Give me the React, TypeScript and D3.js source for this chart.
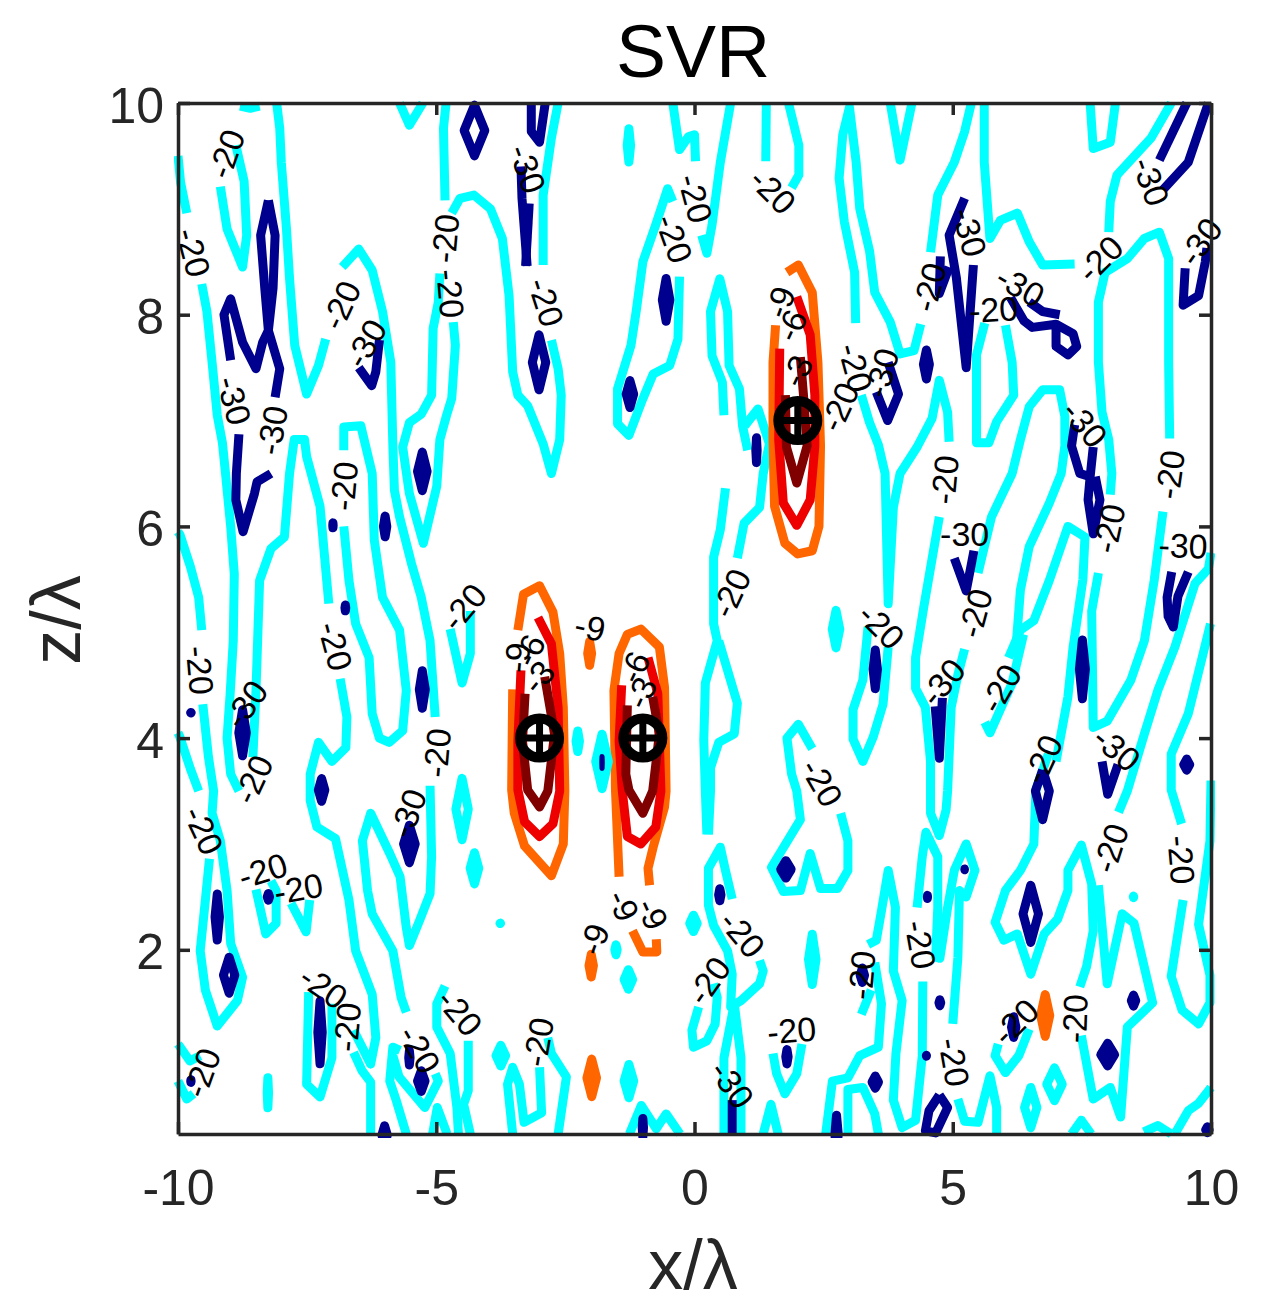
import React, {useEffect, useRef} from 'react'
import * as d3 from 'd3'

type Pt = number[]

const xTicks = [-10, -5, 0, 5, 10]
const zTicks = [2, 4, 6, 8, 10]
const sources = [[-3, 4], [-1, 4], [2, 7]]

// contour level -20, broken where clabel cut the line
const linesM20: Pt[][] = [
  [[-8.8,9.97],[-8.6,9.95],[-8.42,9.97]],
  [[-8.09,10],[-8.03,9.76],[-8,9.44],[-7.9,8.81],[-7.84,8.34],[-7.74,7.71],[-7.51,7.25],[-7.28,7.52],[-7.14,7.77]],
  [[-10,9.5],[-9.95,9.25],[-9.83,8.96]],
  [[-9.54,8.29],[-9.44,8.03],[-9.34,7.55],[-9.24,7.05],[-9.14,6.79],[-9.08,6.5],[-8.98,6],[-8.91,5.55],[-8.93,4.92],[-8.99,4.42],[-9.05,4],[-8.98,3.66],[-8.82,3.5]],
  [[-10,5.95],[-9.96,5.92],[-9.76,5.62],[-9.6,5.33],[-9.54,5.02]],
  [[-10,4.05],[-9.97,4.02],[-9.76,3.71],[-9.6,3.5]],
  [[-9.52,4.32],[-9.41,3.82],[-9.31,3.5],[-9.34,3.29],[-9.18,3.03],[-9.05,2.56],[-8.98,2.06],[-8.75,1.74],[-8.85,1.52],[-9.24,1.28],[-9.47,1.62],[-9.57,1.99],[-9.47,2.47],[-9.39,2.86]],
  [[-9.18,9.21],[-9.05,8.81],[-8.75,8.45],[-8.67,8.75],[-8.72,9.26],[-8.88,9.6]],
  [[-6.82,8.45],[-6.5,8.62],[-6.24,8.42],[-6.04,8.03],[-5.88,7.55],[-5.84,6.76],[-5.81,6.34],[-5.71,6.09],[-5.48,5.65],[-5.29,5.33],[-5.12,4.92],[-5.02,4.2]],
  [[-8.55,3.82],[-8.49,4.45],[-8.42,5.49],[-8.2,5.79],[-7.94,5.9],[-7.84,6.5],[-7.75,6.82],[-7.55,6.82],[-7.51,6.66],[-7.25,6.19],[-7.08,5.27]],
  [[-6.79,6.72],[-6.79,6.94],[-6.46,6.95],[-6.24,6.5],[-6.2,5.87],[-6.04,5.33],[-5.71,5.02],[-5.58,4.45],[-5.65,4.07],[-5.91,3.96],[-6.1,4],[-6.24,4.23],[-6.3,4.76],[-6.56,5.08],[-6.69,5.49],[-6.79,6]],
  [[-6.86,4.56],[-6.73,4.2],[-6.75,3.91],[-7.02,3.78],[-7.28,3.96],[-7.44,3.66],[-7.44,3.41],[-7.31,3.16],[-6.95,3.05],[-6.69,2.47],[-6.56,1.99],[-6.24,1.58],[-6.17,1.17],[-6.27,0.92],[-6.6,1.24]],
  [[-6.6,1.03],[-6.44,0.86],[-6.27,0.75],[-6.27,0.25]],
  [[-4.67,7.93],[-4.63,7.71],[-4.7,7.21],[-4.8,7.05],[-4.93,6.82],[-4.99,6.38],[-5.25,5.84],[-5.52,6.31],[-5.65,6.75],[-5.52,6.98],[-5.29,7.06],[-5.09,7.24],[-5.06,7.87],[-4.96,8.12],[-4.93,8.39]],
  [[-4.83,9.08],[-4.86,9.76],[-4.81,10]],
  [[-5.71,10],[-5.52,9.79],[-5.26,10]],
  [[-4.7,8.96],[-4.54,9.1],[-4.27,9.13],[-3.95,9],[-3.72,8.72],[-3.59,8.18],[-3.52,7.46],[-3.42,7.24],[-3.23,7.14],[-2.93,6.78],[-2.77,6.5],[-2.61,6.82],[-2.58,7.24],[-2.64,7.49],[-2.77,7.76]],
  [[-2.64,10],[-2.77,9.67],[-2.93,9.13],[-2.93,8.47]],
  [[-0.42,10],[-0.29,9.56],[-0.12,9.68],[0,9.7],[0.02,9.45]],
  [[-0.42,9.07],[-0.52,9.19],[-0.75,8.85],[-1,8.5],[-1.13,8.03],[-1.23,7.71],[-1.49,7.3],[-1.49,6.97],[-1.27,6.86],[-1.03,7.17],[-0.8,7.44],[-0.48,7.52],[-0.32,7.77],[-0.29,8.36]],
  [[0.7,10],[0.5,9.44],[0.34,8.85],[0.24,8.58],[0.14,8.75]],
  [[1.39,10],[1.38,9.45]],
  [[1.82,10],[2.02,9.6],[2.02,9.32],[1.88,9.2]],
  [[0.57,7.05],[0.54,7.36],[0.34,7.61],[0.31,8.03],[0.49,8.34],[0.64,8.03],[0.67,7.52],[0.87,7.3],[0.93,6.95],[1.03,6.72]],
  [[0.97,6.95],[1.23,7.11],[1.45,6.78],[1.33,6.5],[1.26,6.18],[0.96,6.03],[0.83,5.7]],
  [[3.12,7.92],[3.1,8.4],[2.9,8.88],[2.8,9.29],[2.87,9.7],[3,9.96],[3.13,9.44],[3.2,9],[3.39,8.6],[3.49,8.21],[3.79,7.93],[3.98,7.63],[4.25,7.66],[4.38,7.91]],
  [[3.79,10],[3.98,9.46],[4.21,10]],
  [[5.36,10],[5.23,9.73],[5.03,9.44],[4.71,9.13],[4.57,8.59]],
  [[5.61,10],[5.61,9.44],[5.72,8.72],[5.92,8.89],[6.25,8.96],[6.48,8.69],[6.74,8.47],[7.36,8.48]],
  [[7.66,10],[7.72,9.57],[8.05,9.63],[8.15,10]],
  [[9.23,10],[8.84,9.67],[8.18,9.32],[8.05,9.07],[8.02,8.78]],
  [[8.05,6.3],[8.08,6.5],[8.02,6.82],[7.89,7.08],[7.82,7.55],[7.82,8.12],[7.95,8.4],[8.38,8.53],[8.71,8.72],[9,8.78],[9.18,8.53],[9.18,7.55],[9.2,6.83]],
  [[5.62,7.92],[5.46,7.62],[5.46,6.79],[5.7,6.79],[5.85,6.99],[6.18,7.24],[6.15,7.55],[6.02,7.9]],
  [[5.49,5.56],[5.75,6.09],[6.15,6.5],[6.31,6.82],[6.48,7.13],[6.74,7.29],[7.07,7.29],[7.17,7.04],[7.17,6.76],[7.1,6.5],[6.87,6.22],[6.48,5.81],[6.31,5.4],[6.21,4.76]],
  [[3.23,7.24],[3.39,6.98],[3.56,6.77],[3.69,6.5],[3.72,5.87],[3.75,5.27],[3.85,6.18],[3.98,6.5],[4.31,6.75],[4.6,7.02],[4.74,7.38],[4.9,7.08],[4.93,6.8]],
  [[0.6,6.36],[0.5,5.97],[0.37,5.71],[0.37,5.08],[0.44,4.92],[0.21,4.52],[0.18,3.98],[0.21,3.5],[0.24,3.09]],
  [[0.47,4.92],[0.83,4.33],[0.77,4.04],[0.47,3.96],[0.31,3.72],[0.31,3.5],[0.27,3.09]],
  [[2.28,3.9],[2.01,4.13],[1.79,4],[1.88,3.66],[1.98,3.5],[2.05,3.23],[1.49,2.78],[1.72,2.55],[2.05,2.56],[2.24,2.91],[2.44,2.58],[2.77,2.58],[2.97,2.75],[2.97,3.03],[2.83,3.29]],
  [[3.36,5.05],[3.26,4.55],[3.07,4.27],[3.07,3.99],[3.26,3.78],[3.46,4.01],[3.65,4.32],[3.75,4.86]],
  [[4.74,6.09],[4.44,5.24],[4.28,4.76],[4.28,4.47],[4.47,4.29],[4.57,3.78],[4.57,3.29],[4.74,3.08],[4.87,3.32],[4.9,3.5],[4.97,4.29],[5.1,4.6],[5.23,4.84]],
  [[6.08,4.76],[6.31,5.02],[6.57,5.11],[6.87,5.49],[7.23,6],[7.56,5.9],[7.52,5.5],[7.33,4.86],[7.23,4.39],[7,3.78]],
  [[6.37,4.98],[6.15,4.52],[5.92,4.27],[5.72,4.05],[5.62,4.15]],
  [[7.82,5.56],[7.69,5.2],[7.72,4.1],[7.99,4.16],[8.45,4.55],[8.71,4.92],[8.9,5.49],[9.07,6.14]],
  [[10,5.75],[9.95,5.6],[9.69,5.46],[9.3,4.86],[8.97,4.45],[8.71,4.04],[8.38,3.5],[8.21,3.3]],
  [[9.99,5.08],[9.56,4.23],[9.23,3.85],[9.23,3.51],[9.43,3.19]],
  [[10,3.6],[9.98,3.03],[9.76,2.24],[9.98,1.76],[9.98,1.5],[9.76,1.3],[9.44,1.43],[9.23,1.75],[9.46,2.47]],
  [[0.73,2.48],[0.6,2.75],[0.5,2.97],[0.27,2.77],[0.27,2.42],[0.37,2.23],[0.64,1.99],[0.73,1.77],[0.7,1.46],[0.9,1.52],[1.26,1.68],[1.33,1.8],[1.26,1.9]],
  [[0.57,0.26],[0.57,0.98],[0.77,1.49],[0.9,0.98],[0.9,0.26]],
  [[0.08,1.46],[-0.05,1.24],[-0.02,1.08],[0.24,1.14],[0.4,1.3],[0.44,1.55],[0.37,1.68]],
  [[1.52,1.02],[1.59,0.83],[1.75,0.64],[1.98,0.83],[2.08,1.11]],
  [[1.33,0.26],[1.48,0.54],[1.62,0.26]],
  [[3.36,2.05],[3.52,2.09],[3.62,2.37],[3.75,2.75],[3.89,2.4],[3.85,1.8],[4.02,1.52],[3.9,1.02],[3.85,0.58],[4.02,0.32],[4.28,0.39],[4.41,1],[4.42,1.7]],
  [[3.23,1.39],[3.42,1.62]],
  [[3.49,1.88],[3.62,1.49],[3.56,1.08],[3.2,1],[2.97,0.79],[2.67,0.76],[2.54,0.26]],
  [[2.97,0.26],[2.97,0.68],[3.26,0.7],[3.49,0.45],[3.56,0.26]],
  [[4.31,2.4],[4.41,2.88],[4.48,3.11],[4.71,2.88],[4.71,2.4],[4.67,1.93],[4.75,1.92],[4.9,2.4],[5.03,2.75],[5.26,3],[5.43,2.75],[5.26,2.5],[5.13,2.56],[5.1,1.93],[5,1.3]],
  [[5.1,0.59],[5.23,0.38],[5.49,0.37],[5.72,0.81],[5.85,0.51],[5.85,0.26]],
  [[5.88,1.11],[5.82,1],[6.02,0.84],[6.28,1],[6.48,1.25]],
  [[6.85,3.85],[6.61,3.51],[6.57,3],[6.31,2.75],[6.02,2.56],[5.82,2.26],[5.99,2.09],[6.25,2.15],[6.51,1.77],[6.77,2.15],[7.03,2.29],[7.23,2.56],[7.23,2.75],[7.49,2.99],[7.69,2.62],[7.72,2.18],[7.59,1.84],[7.46,1.65]],
  [[7.82,2.61],[7.99,1.68],[8.28,2.34],[8.51,2.25],[8.87,1.5],[8.38,1.27],[8.25,0.42],[8.05,0.7],[7.72,0.59],[7.49,1.19]],
  [[7.3,0.26],[7.49,0.39],[7.68,0.26]],
  [[8.7,0.28],[8.97,0.34],[9.23,0.26]],
  [[9.3,0.26],[9.56,0.48],[9.76,0.55],[10,0.7]],
  [[-8.49,2.57],[-8.3,2.15],[-8.1,2.25],[-8.1,2.56],[-8.2,2.65]],
  [[-7.81,2.44],[-7.52,2.17],[-7.45,2.47]],
  [[-5.58,1.41],[-5.68,1.55],[-5.84,1.99],[-6.24,2.34],[-6.33,2.56],[-6.43,3.03],[-6.27,3.29],[-5.9,2.91],[-5.7,2.69],[-5.58,2.21],[-5.52,2.04],[-5.32,2.28],[-5.12,2.53],[-5.09,2.88],[-5.12,3.55]],
  [[-7.47,1.6],[-7.51,0.73],[-7.25,0.61],[-7.02,0.98],[-7.02,1.49]],
  [[-10,1.11],[-9.77,0.95],[-9.57,1]],
  [[-10,0.76],[-9.83,0.59],[-9.7,0.64]],
  [[-5.07,0.26],[-4.98,0.51],[-4.79,0.26]],
  [[-5.58,0.26],[-5.77,0.57],[-5.9,0.76],[-5.84,1.08],[-5.7,1.05]],
  [[-5.84,1],[-5.72,0.8],[-5.22,0.51],[-4.96,0.76],[-5.02,0.83]],
  [[-4.83,1.66],[-4.99,1.49],[-4.99,1.27],[-4.73,1.02],[-4.6,0.51],[-4.57,0.26]],
  [[-4.38,1.14],[-4.38,0.67],[-4.47,0.54],[-4.34,0.26]],
  [[-3.52,0.26],[-3.62,0.73],[-3.52,0.89],[-3.39,0.73],[-3.3,0.37],[-2.96,0.46],[-3,0.89]],
  [[-2.84,1.17],[-2.77,1.02],[-2.48,0.8],[-2.64,0.26]],
  [[-1.26,0.26],[-1.03,0.53],[-0.74,0.31],[-0.55,0.45],[-0.28,0.26]],
  [[-4.73,5.03],[-4.5,4.52],[-4.34,4.8],[-4.34,5.2]],
]

// contour level -30
const linesM30: Pt[][] = [
  [[-3.16,10],[-3.16,9.73],[-3,9.63],[-2.89,10]],
  [[-3.36,9.4],[-3.34,9.1],[-3.24,8.46]],
  [[-3.2,9.05],[-3.27,8.46]],
  [[-8.25,9.08],[-8.4,8.75],[-8.32,8.25],[-8.25,7.85],[-8.36,7.74],[-8.49,7.49],[-8.75,7.74],[-8.98,8.15],[-9.11,8],[-8.98,7.57]],
  [[-8.25,9.08],[-8.12,8.75],[-8.16,8.25],[-8.25,7.85],[-8.03,7.49],[-8.12,7.22]],
  [[-6.1,7.76],[-6.17,7.46],[-6.25,7.33],[-6.5,7.5]],
  [[-8.82,6.87],[-8.87,6.5],[-8.88,6.25],[-8.74,5.95],[-8.52,6.31],[-8.47,6.42],[-8.2,6.5]],
  [[9.53,10],[9,9.46]],
  [[9.95,10],[9.56,9.44],[9.07,9.18]],
  [[5.23,9.1],[4.93,8.75],[5.07,8.35],[5.26,7.5],[5.4,8.47]],
  [[4.76,8.55],[4.74,8.2],[4.93,8.45]],
  [[6.12,8.16],[6.38,7.94],[6.54,7.88],[7,7.91],[7.33,7.82],[7.4,7.7],[7.23,7.62],[7,7.7],[7,7.87]],
  [[6.48,8.12],[6.74,8.03],[7.07,8]],
  [[3.75,7.55],[3.95,7.25],[3.74,7],[3.52,7.27]],
  [[9.5,8.44],[9.46,8.09],[9.76,8.18],[9.89,8.5],[9.92,8.63]],
  [[7.36,6.96],[7.3,6.76],[7.46,6.5],[7.66,6.47],[7.72,6.75]],
  [[7.66,6.47],[7.62,6.25],[7.72,5.93],[7.85,6.25],[7.76,6.47]],
  [[5.03,5.7],[5.26,5.39],[5.41,5.77]],
  [[4.66,4.3],[4.74,3.81],[4.8,4.38]],
  [[9.24,5.57],[9.15,5.33],[9.17,5.15],[9.27,5.05],[9.36,5.34],[9.56,5.57]],
  [[6.74,3.7],[6.6,3.5],[6.74,3.23],[6.87,3.5],[6.74,3.7]],
  [[7.89,3.78],[8,3.47],[8.2,3.75]],
  [[4.74,0.63],[4.9,0.51],[4.67,0.27],[4.47,0.29],[4.54,0.48],[4.74,0.63]],
  [[0.73,0.58],[0.73,0.26]],
]

// contour level -9
const linesM9: Pt[][] = [
  [[1.79,8.4],[2.01,8.47],[2.28,8.21],[2.39,7.55],[2.44,6.76],[2.41,6],[2.28,5.77],[2,5.74],[1.75,5.84],[1.55,6.19],[1.52,6.82],[1.52,7.55],[1.57,7.9]],
  [[-3.42,5.02],[-3.31,5.36],[-3,5.44],[-2.74,5.19],[-2.61,4.8],[-2.54,4.29],[-2.51,3.5],[-2.54,3],[-2.77,2.7],[-3.29,2.98],[-3.49,3.29],[-3.54,3.51],[-3.52,4.46]],
  [[-1.46,2.69],[-1.53,3.51],[-1.56,4.45],[-1.46,4.8],[-1.3,4.98],[-1.04,5.03],[-0.68,4.86],[-0.58,4.48],[-0.55,3.5],[-0.58,3.35],[-0.8,2.97],[-0.9,2.77],[-0.87,2.61]],
  [[-1.2,2.18],[-1,1.98],[-0.73,1.98],[-0.74,2.1]],
]

// contour level -6
const linesM6: Pt[][] = [
  [[1.98,8.17],[2.24,7.81],[2.33,7.24],[2.33,6.76],[2.24,6.25],[1.98,6.01],[1.72,6.22],[1.63,6.82],[1.65,7.68]],
  [[-3.03,5.14],[-2.77,4.89],[-2.64,4.29],[-2.61,3.5],[-2.74,3.19],[-3,3.07],[-3.29,3.21],[-3.42,3.51],[-3.42,3.97],[-3.36,4.64]],
  [[-0.9,4.76],[-0.71,4.42],[-0.65,3.5],[-0.75,3.16],[-1.04,3],[-1.3,3.07],[-1.4,3.51],[-1.46,3.97],[-1.41,4.5]],
]

// contour level -3
const linesM3: Pt[][] = [
  [[2.05,7.6],[2.11,7.24],[2.18,6.76],[1.98,6.41],[1.78,6.75],[1.76,7.24]],
  [[-2.9,4.58],[-2.71,4.04],[-2.84,3.5],[-3,3.35],[-3.23,3.51],[-3.33,3.97],[-3.28,4.42]],
  [[-0.81,4.39],[-0.68,4.04],[-0.81,3.5],[-1,3.29],[-1.27,3.51],[-1.33,3.66],[-1.3,4.31]],
]

// small closed contours: x, z, half width, half height
const dotsM20 = [
  [-1.27,9.6,0.12,0.2],[2.74,5.03,0.16,0.22],[2.28,1.91,0.16,0.28],[-4.26,2.77,0.17,0.19],
  [-3.76,2.25,0.09,0.045],[-1.52,2,0.11,0.09],[-1.28,1.72,0.17,0.135],[-0.02,2.25,0.16,0.12],
  [-2.26,3.97,0.12,0.14],[-1.79,3.78,0.21,0.3],[-8.26,0.65,0.1,0.185],[-3.75,1,0.18,0.14],
  [-1.27,0.76,0.18,0.2],[8.5,2.5,0.09,0.05],
]
const dotsM30 = [
  [-0.55,8.14,0.16,0.245],[-1.25,7.25,0.16,0.17],[-5.27,6.52,0.18,0.225],[-5.99,6,0.12,0.14],
  [-7,6.01,0.09,0.066],[-6.76,5.23,0.095,0.07],[-5.27,4.46,0.145,0.22],[-9.75,4.24,0.09,0.045],
  [-8.75,4.05,0.16,0.26],[-7.22,3.51,0.15,0.15],[-5.52,3,0.2,0.22],[-9.24,2.31,0.13,0.26],
  [-8.25,2.5,0.11,0.075],[-7.25,1.22,0.13,0.34],[-9.75,0.76,0.09,0.055],[-5.52,0.98,0.1,0.11],
  [-5.29,0.76,0.16,0.14],[-6,0.25,0.14,0.13],[-1,0.32,0.1,0.13],[-1.79,3.77,0.05,0.08],
  [4.49,7.53,0.145,0.18],[1.2,6.72,0.1,0.16],[3.5,4.65,0.13,0.225],[7.51,4.65,0.145,0.32],
  [9.53,3.75,0.145,0.095],[0.49,2.52,0.11,0.1],[1.77,2.76,0.19,0.125],[4.51,2.5,0.085,0.057],
  [5.23,2.76,0.08,0.047],[8.5,1.52,0.13,0.095],[4.75,1.5,0.105,0.07],[4.49,1,0.085,0.047],
  [3.25,1.76,0.13,0.11],[1.79,0.99,0.11,0.11],[3.5,0.75,0.15,0.1],[2.75,0.26,0.12,0.22],
  [8,1.01,0.22,0.15],[6.18,1.27,0.13,0.14],[9.93,0.3,0.12,0.07],
]
const dotsM9 = [
  [-2.03,4.8,0.125,0.155],[-2,1.85,0.13,0.15],[-1.99,0.79,0.18,0.22],[6.79,1.38,0.175,0.24],
]

// closed contours with a hole: x, z, half width, half height
const ringsM20 = [[-4.5,3.33,0.12,0.29],[6.51,0.51,0.12,0.19],[6.97,0.73,0.15,0.155]]
const ringsM30 = [[-4.26,9.74,0.2,0.24],[-3.01,7.55,0.13,0.26],[-9.01,1.76,0.11,0.17],[6.51,2.34,0.15,0.27]]

// clabel text, x, z, rotation
const labels: [string, number, number, number][] = [
  ['-20',-9.07,9.52,-70],['-20',-9.7,8.59,75],['-20',-6.85,8.09,-65],['-30',-6.37,7.73,-60],
  ['-20',-4.83,8.72,-85],['-20',-4.72,8.2,85],['-30',-3.23,9.38,70],['-20',-2.87,8.12,72],
  ['-20',-0.39,8.72,70],['-20',0.02,9.1,75],['-30',-8.91,7.19,75],['-30',-8.18,6.91,-80],
  ['-20',1.52,9.17,45],['-30',5.33,8.78,75],['-30',8.84,9.26,70],['-30',9.79,8.69,-55],
  ['-20',7.85,8.53,-45],['-30',6.31,8.27,30],['-20',5.79,8.05,-3],['-20',4.54,8.26,-75],
  ['-9',1.65,8.12,-70],['-6',1.87,7.9,-65],['-3',1.98,7.47,-65],['-20',3.12,7.5,75],
  ['-30',3.62,7.45,-75],['-20',2.8,7.13,-65],['-30',7.56,6.97,50],['-20',4.84,6.44,-85],
  ['-30',5.23,5.93,0],['-20',5.43,5.18,-75],['-20',8.02,5.98,-78],['-20',9.2,6.49,-82],
  ['-30',9.46,5.82,2],['-30',-8.69,4.32,-55],['-20',-6.79,6.38,-85],['-20',-6.95,4.87,75],
  ['-20',-9.57,4.64,85],['-20',-4.47,5.24,-50],['-9',-2.02,5.05,12],['-9',-3.44,4.76,-85],
  ['-6',-3.2,4.83,-65],['-3',-3.03,4.58,-50],['-6',-1.17,4.67,-65],['-3',-1.04,4.43,-65],
  ['-20',-4.99,3.86,-85],['-20',-8.55,3.61,-65],['-20',-9.5,3.13,65],['-30',-5.55,3.29,-70],
  ['-20',-8.36,2.75,-17],['-20',-7.67,2.58,-10],['-20',-7.18,1.65,35],['-20',-6.73,1.27,-85],
  ['-20',-9.54,0.84,-70],['-20',-5.32,1.06,60],['-20',-4.54,1.41,50],['-20',-3.03,1.13,-80],
  ['-9',-1.37,2.42,65],['-9',-0.81,2.34,65],['-9',-1.95,2.1,-70],['-20',0.7,5.37,-65],
  ['-20',3.62,5.06,45],['-20',2.47,3.58,60],['-30',4.8,4.53,-50],['-20',5.92,4.47,-60],
  ['-20',6.74,3.8,-65],['-30',8.18,3.9,40],['-20',0.93,2.15,50],['-20',0.27,1.71,-55],
  ['-20',1.88,1.24,-5],['-30',0.73,0.73,55],['-20',3.23,1.76,-85],['-20',4.38,2.05,80],
  ['-20',5.03,0.94,80],['-20',6.21,1.32,-45],['-20',7.36,1.35,-88],['-20',8.05,2.96,-72],
  ['-20',9.43,2.85,85],
]

const cyan = '#00ffff'
const navy = '#00008f'
const orange = '#ff6600'
const red = '#ee0000'
const darkRed = '#800000'
const axisColor = '#262626'
const font = '"Liberation Sans", Arial, sans-serif'

const width = 1263
const height = 1312
const lineWidth = 9
const x = d3.scaleLinear().domain([-10, 10]).range([178, 1211])
const z = d3.scaleLinear().domain([10, 0.26]).range([103, 1134])

const contour = d3.line<Pt>().x(d => x(d[0])).y(d => z(d[1]))
const diamond = (d: number[]): Pt[] => [
  [d[0] - d[2], d[1]], [d[0], d[1] + d[3]], [d[0] + d[2], d[1]], [d[0], d[1] - d[3]], [d[0] - d[2], d[1]],
]

// a tiny closed contour: a diamond whose round-joined stroke reaches the outer size
const Dot = ({d, color}: {d: number[], color: string}) => {
  const rx = x(d[2]) - x(0)
  const ry = z(0) - z(d[3])
  const sw = Math.min(lineWidth, 2 * Math.min(rx, ry))
  const inner = [d[0], d[1], x.invert(x(0) + Math.max(rx - sw / 2, 0.2)), z.invert(z(0) - Math.max(ry - sw / 2, 0.2))]
  return <path d={contour(diamond(inner)) + 'Z'} fill={color} stroke={color} strokeWidth={sw} />
}

const levels: [Pt[][], string][] = [
  [linesM20, cyan], [linesM30, navy], [linesM9, orange], [linesM6, red], [linesM3, darkRed],
]

const App = () => {
  const bottomRef = useRef<SVGGElement>(null)
  const leftRef = useRef<SVGGElement>(null)
  const topRef = useRef<SVGGElement>(null)
  const rightRef = useRef<SVGGElement>(null)

  useEffect(() => {
    const style = (g: any) => {
      g.selectAll('path,line').attr('stroke', axisColor).attr('stroke-width', 3.5)
      g.selectAll('text').attr('fill', axisColor).attr('font-size', 50).attr('font-family', font)
    }
    const fmt = (d: any) => String(d)
    d3.select(bottomRef.current).call(d3.axisBottom(x).tickValues(xTicks).tickSize(-12).tickSizeOuter(0).tickPadding(35).tickFormat(fmt) as any).call(style)
    d3.select(leftRef.current).call(d3.axisLeft(z).tickValues(zTicks).tickSize(-12).tickSizeOuter(0).tickPadding(14).tickFormat(fmt) as any).call(style)
    d3.select(leftRef.current).selectAll('text').attr('dy', '0.38em')
    d3.select(topRef.current).call(d3.axisTop(x).tickValues(xTicks).tickSize(-12).tickSizeOuter(0).tickFormat(() => '') as any).call(style)
    d3.select(rightRef.current).call(d3.axisRight(z).tickValues(zTicks).tickSize(-12).tickSizeOuter(0).tickFormat(() => '') as any).call(style)
  }, [])

  return (
    <svg width={width} height={height} style={{position: 'absolute', left: 0, top: 0}}>
      <defs>
        <clipPath id="plot"><rect x={174} y={99} width={1041} height={1039} /></clipPath>
      </defs>
      <g clipPath="url(#plot)" fill="none" strokeWidth={lineWidth} strokeLinejoin="round">
        {levels.map(([lines, color], i) =>
          lines.map((l, j) => <path key={`${i}-${j}`} d={contour(l) || ''} stroke={color} />)
        )}
        {ringsM20.map((d, i) => <path key={i} d={contour(diamond(d)) + 'Z'} stroke={cyan} />)}
        {ringsM30.map((d, i) => <path key={i} d={contour(diamond(d)) + 'Z'} stroke={navy} />)}
        {([[dotsM20, cyan], [dotsM30, navy], [dotsM9, orange]] as [number[][], string][]).map(([dots, color]) =>
          dots.map((d, i) => <Dot key={`${color}${i}`} d={d} color={color} />)
        )}
      </g>
      {labels.map(([t, lx, lz, rot], i) => (
        <text key={i} transform={`translate(${x(lx)},${z(lz)}) rotate(${rot})`} textAnchor="middle" dy="0.36em"
          fontFamily={font} fontSize={34} fill="#000">{t}</text>
      ))}
      {sources.map((s, i) => (
        <g key={i} transform={`translate(${x(s[0])},${z(s[1])})`} fill="none" stroke="#000">
          <circle r={19.5} strokeWidth={10} />
          <path d="M-22,0H22M0,-22V22" strokeWidth={7} />
        </g>
      ))}
      <g ref={bottomRef} transform={`translate(0,${z(0.26)})`} />
      <g ref={leftRef} transform={`translate(${x(-10)},0)`} />
      <g ref={topRef} transform={`translate(0,${z(10)})`} />
      <g ref={rightRef} transform={`translate(${x(10)},0)`} />
      <text x={693} y={77} textAnchor="middle" fontFamily={font} fontSize={75} fill="#000">SVR</text>
      <text x={693} y={1289} textAnchor="middle" fontFamily={font} fontSize={70} fill={axisColor}>x/λ</text>
      <text transform="translate(80,620) rotate(-90)" textAnchor="middle" fontFamily={font} fontSize={70} fill={axisColor}>z/λ</text>
    </svg>
  )
}

export default App
